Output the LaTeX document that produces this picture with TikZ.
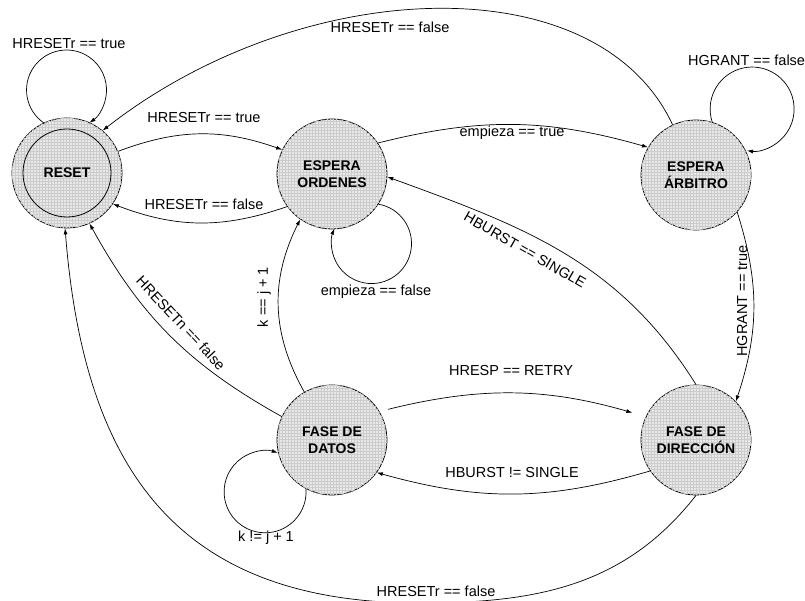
\documentclass[tikz,border=0pt]{standalone}
\usepackage{fontspec}
\setmainfont{Liberation Sans}
\usetikzlibrary{arrows.meta, patterns}

\begin{document}
\begin{tikzpicture}[x=1pt, y=1pt, >={Latex[length=6pt,width=4pt]},
    font=\fontsize{14.5}{17}\selectfont,
    estado/.style={circle, draw, line width=0.8pt, minimum size=110pt, inner sep=0pt,
        align=center, font=\fontsize{14}{17}\selectfont\bfseries,
        fill=black!9, postaction={pattern=grid, pattern color=black!20}},
    anillo/.style={circle, draw, line width=0.8pt, minimum size=88pt, inner sep=0pt},
    trans/.style={->, line width=0.7pt},
    etiq/.style={inner sep=1pt}]
    \useasboundingbox (0,0) rectangle (805,601);

    % Estados
    \node[estado] (reset) at (67,428) {RESET};
    \node[anillo] (resetin) at (reset.center) {};
    \node[estado] (ordenes) at (332,427) {ESPERA\\ORDENES};
    \node[estado] (arbitro) at (696,426) {ESPERA\\ÁRBITRO};
    \node[estado] (datos) at (332,161) {FASE DE\\DATOS};
    \node[estado] (direccion) at (696,161) {FASE DE\\DIRECCIÓN};

    % Bucles sobre un mismo estado
    \draw[trans] (reset.115) arc[start angle=235, end angle=-55, radius=40];
    \draw[trans] (ordenes.-33) arc[start angle=80, end angle=-202, radius=40];
    \draw[trans] (arbitro.73) arc[start angle=198, end angle=-97, radius=42];
    \draw[trans] (datos.242) arc[start angle=4, end angle=-288, radius=41];

    % Transiciones de la fila superior
    \draw[trans] (arbitro.115) to[out=115, in=38, out looseness=0.8, in looseness=1.13] (reset.50);
    \draw[trans] (reset.23) to[bend left=20] (ordenes.154);
    \draw[trans] (ordenes.216) to[bend left=20] (reset.-34);
    \draw[trans] (ordenes.34) to[bend left=15] (arbitro.150);

    % Transiciones entre filas
    \draw[trans] (arbitro.-42) to[bend left=18] (direccion.44);
    \draw[trans] (direccion.90) to[out=122, in=-20] (ordenes.-3);
    \draw[trans] (datos.120) to[bend left=28] (ordenes.235);
    \draw[trans] (datos.155) to[bend left=16] (reset.-66);

    % Transiciones de la fila inferior
    \draw[trans, shorten <=9pt, shorten >=14pt] (datos.31) to[bend left=15] (direccion.155);
    \draw[trans] (direccion.214) to[bend left=16] (datos.-36);
    \coordinate (fondo) at (420,-2);
    \draw[trans] (direccion.-90) to[out=232, in=0] (fondo)
        to[out=180, in=-85.5, looseness=1.2] (reset.-92);

    % Etiquetas
    \node[etiq] (l1) at (69,557) {HRESETr == true};
    \node[etiq] (l2) at (390,574) {HRESETr == false};
    \node[etiq] (l3) at (204,483) {HRESETr == true};
    \node[etiq] (l4) at (204,397) {HRESETr == false};
    \node[etiq] (l5) at (512,468) {empieza == true};
    \node[etiq] (l6) at (376,309) {empieza == false};
    \node[etiq, anchor=west] (l7) at (687,541) {HGRANT == false};
    \node[etiq, rotate=90] (l8) at (742,300) {HGRANT == true};
    \node[etiq, rotate=-30] (l9) at (525,351) {HBURST == SINGLE};
    \node[etiq, rotate=90] (l10) at (264,304) {k == j + 1};
    \node[etiq, rotate=-47] (l11) at (181,278) {HRESETn == false};
    \node[etiq, anchor=west] (l12) at (237,63) {k != j + 1};
    \node[etiq] (l13) at (511,230) {HRESP == RETRY};
    \node[etiq] (l14) at (512,128) {HBURST != SINGLE};
    \node[etiq] (l15) at (436,10) {HRESETr == false};
\end{tikzpicture}
\end{document}
